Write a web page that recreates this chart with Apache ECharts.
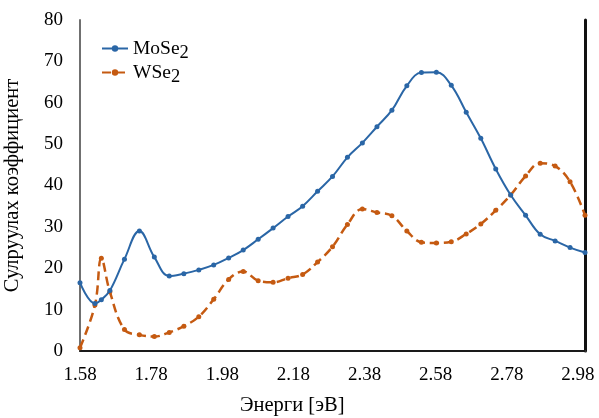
<!DOCTYPE html>
<html>
<head>
<meta charset="utf-8">
<script src="https://cdn.jsdelivr.net/npm/echarts@6/dist/echarts.min.js"></script>
<style>html,body{margin:0;padding:0;background:#fff}#c{width:599px;height:418px}</style>
</head>
<body>
<div id="c"></div>
<script>
const energy = [1.58, 1.622, 1.64, 1.664, 1.705, 1.747, 1.789, 1.831, 1.872, 1.914, 1.956, 1.998, 2.039, 2.081, 2.123, 2.165, 2.206, 2.248, 2.29, 2.332, 2.374, 2.415, 2.457, 2.499, 2.54, 2.582, 2.624, 2.666, 2.707, 2.749, 2.791, 2.833, 2.874, 2.916, 2.958, 3.0];
const moSe2 = [16.5, 11.5, 12.4, 14.6, 22.2, 29.0, 22.7, 18.1, 18.7, 19.6, 20.8, 22.5, 24.4, 27.0, 29.7, 32.5, 35.0, 38.6, 42.2, 46.8, 50.3, 54.2, 58.2, 64.1, 67.3, 67.4, 64.2, 57.7, 51.4, 44.0, 37.7, 32.8, 28.2, 26.6, 25.0, 23.8];
const wSe2 = [0.8, 11.1, 22.4, 14.3, 5.2, 3.9, 3.5, 4.5, 6.0, 8.3, 12.5, 17.3, 19.2, 17.0, 16.6, 17.6, 18.5, 21.5, 25.2, 30.6, 34.3, 33.5, 32.7, 29.0, 26.3, 26.1, 26.4, 28.3, 30.7, 34.0, 37.7, 42.3, 45.4, 44.7, 40.9, 32.8];
const xTicks = [1.58, 1.78, 1.98, 2.18, 2.38, 2.58, 2.78, 2.98];
const yTicks = [0, 10, 20, 30, 40, 50, 60, 70, 80];
const seriesNames = ['MoSe2', 'WSe2'];

const FONT = '"Liberation Serif", "Times New Roman", serif';
const chart = echarts.init(document.getElementById('c'), null, {renderer: 'canvas'});
const pairs = (ys) => energy.map((x, i) => [x, ys[i]]);
chart.setOption({
  animation: false,
  backgroundColor: '#fff',
  textStyle: {fontFamily: FONT},
  grid: {left: 80, right: 14, top: 20, bottom: 67, outerBoundsMode: 'none', containLabel: false},
  legend: {
    left: 96, top: 29, orient: 'vertical', itemWidth: 26, itemHeight: 8, itemGap: -5,
    data: seriesNames,
    formatter: (n) => '{n|' + n.replace('2', '') + '}{s|2}',
    textStyle: {
      fontFamily: FONT, color: '#000',
      rich: {
        n: {fontFamily: FONT, fontSize: 19.5, color: '#000', lineHeight: 24},
        s: {fontFamily: FONT, fontSize: 18.5, color: '#000', lineHeight: 14, padding: [10, 0, 0, 0]}
      }
    }
  },
  xAxis: [{
    type: 'value', min: 1.58, max: 3.0, position: 'bottom',
    axisLine: {show: true, lineStyle: {color: '#9a9a9a', width: 2}},
    axisTick: {show: false},
    splitLine: {show: false},
    axisLabel: {customValues: xTicks, fontFamily: FONT, fontSize: 19, color: '#000', margin: 15,
      formatter: (v) => v.toFixed(2), showMaxLabel: true, showMinLabel: true}
  }, {
    type: 'value', min: 1.58, max: 3.0, position: 'top',
    axisLine: {show: true, lineStyle: {color: '#1a1a1a', width: 2}},
    axisTick: {show: false}, axisLabel: {show: false}, splitLine: {show: false}
  }],
  yAxis: [{
    type: 'value', min: 0, max: 80, interval: 10, position: 'left',
    name: 'Сулруулах коэффициент', nameLocation: 'middle', nameGap: 57,
    nameTextStyle: {fontFamily: FONT, fontSize: 20.5, color: '#000'},
    axisLine: {show: true, lineStyle: {color: '#707070', width: 2}},
    axisTick: {show: false},
    splitLine: {show: false},
    axisLabel: {customValues: yTicks, fontFamily: FONT, fontSize: 19, color: '#000', margin: 17}
  }, {
    type: 'value', min: 0, max: 80, position: 'right',
    axisLine: {show: true, lineStyle: {color: '#111', width: 3}},
    axisTick: {show: false}, axisLabel: {show: false}, splitLine: {show: false}
  }],
  title: {
    text: 'Энерги [эВ]', left: 240, top: 395, padding: 0,
    textStyle: {fontFamily: FONT, fontSize: 20.5, fontWeight: 'normal', color: '#000'}
  },
  series: [{
    name: seriesNames[0], type: 'line', data: pairs(moSe2), smooth: 0.4,
    symbol: 'circle', symbolSize: 5, showSymbol: true,
    itemStyle: {color: '#2a66a6'},
    lineStyle: {color: '#2a66a6', width: 2}, z: 3
  }, {
    name: seriesNames[1], type: 'line', data: pairs(wSe2), smooth: 0.4,
    symbol: 'circle', symbolSize: 5, showSymbol: true,
    itemStyle: {color: '#c55a11'},
    lineStyle: {color: '#c55a11', width: 2.5, type: [9, 5]}, z: 2
  }]
});
</script>
</body>
</html>
